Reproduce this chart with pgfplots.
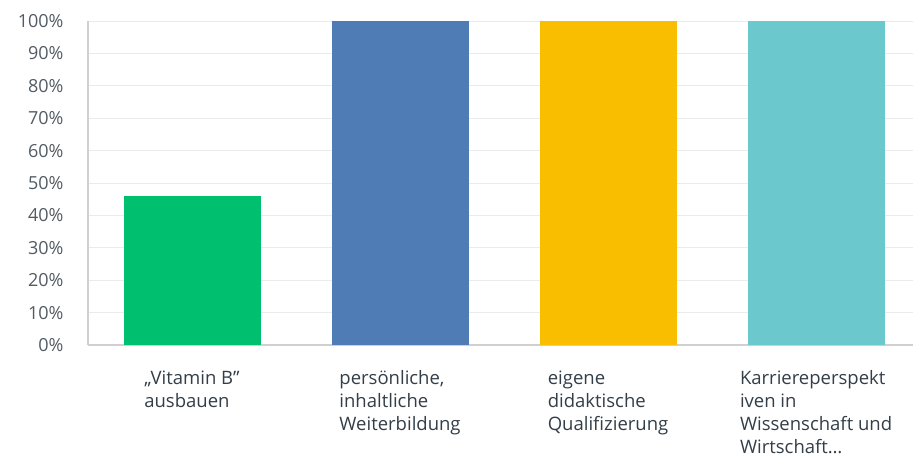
\documentclass[border=0pt]{standalone}
\usepackage{pgfplots}
\pgfplotsset{compat=1.18}
\usepackage{fontspec}
\setmainfont{Open Sans}
\definecolor{cgreen}{HTML}{00BF6F}
\definecolor{cblue}{HTML}{507CB6}
\definecolor{cyellow}{HTML}{F9BE00}
\definecolor{cteal}{HTML}{6BC8CD}
\definecolor{gridc}{HTML}{EBEBEB}
\definecolor{axc}{HTML}{D0D0D0}
\definecolor{txt}{HTML}{333E48}
\begin{document}
\begin{tikzpicture}
\useasboundingbox (-88bp,-114bp) rectangle (825bp,345bp);
\begin{axis}[
  at={(0,0)}, anchor=south west,
  scale only axis, width=825bp, height=324bp,
  xmin=-0.5, xmax=3.466, ymin=0, ymax=100,
  axis x line*=bottom, axis y line*=left,
  axis line style={axc, line width=1.2pt, -},
  ytick={0,10,20,30,40,50,60,70,80,90,100},
  yticklabel={\pgfmathprintnumber{\tick}\%},
  /pgf/number format/assume math mode=true,
  major tick length=0pt,
  ymajorgrids, grid style={gridc, line width=1pt},
  yticklabel style={font=\fontsize{18bp}{20bp}\selectfont, text=txt!85, xshift=-21bp},
  xtick={0,1,2,3},
  xticklabels={{,,Vitamin B''\\ausbauen},{persönliche,\\inhaltliche\\Weiterbildung},{eigene\\didaktische\\Qualifizierung},{Karriereperspekt\\iven in\\Wissenschaft und\\Wirtschaft\ldots}},
  xticklabel style={font=\fontsize{18.5bp}{23bp}\selectfont, text=txt, align=left, anchor=north, yshift=-22bp},
  bar width=137bp,
  clip=false,
]
\addplot[ybar, bar shift=0pt, fill=cgreen, draw=none] coordinates {(0,46)};
\addplot[ybar, bar shift=0pt, fill=cblue, draw=none] coordinates {(1,100)};
\addplot[ybar, bar shift=0pt, fill=cyellow, draw=none] coordinates {(2,100)};
\addplot[ybar, bar shift=0pt, fill=cteal, draw=none] coordinates {(3,100)};
\end{axis}
\end{tikzpicture}
\end{document}
